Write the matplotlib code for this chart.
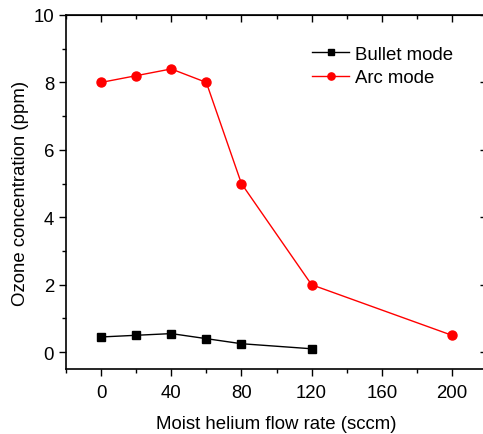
import matplotlib
matplotlib.use("Agg")
import matplotlib.pyplot as plt
from matplotlib.ticker import MultipleLocator

plt.rcParams['font.family'] = ['Liberation Sans', 'DejaVu Sans']

bullet_x = [0, 20, 40, 60, 80, 120]
bullet_y = [0.45, 0.5, 0.55, 0.4, 0.25, 0.1]
arc_x = [0, 20, 40, 60, 80, 120, 200]
arc_y = [8.0, 8.2, 8.4, 8.0, 5.0, 2.0, 0.5]

FS = 13.4

fig = plt.figure(figsize=(4.83, 4.35), dpi=100)
W, H = 483, 435
ax = fig.add_axes([66 / W, 1 - 370 / H, (487 - 66) / W, (370 - 16) / H])

ax.plot(bullet_x, bullet_y, color='black', lw=1.0, marker='s', ms=6, label='Bullet mode')
ax.plot(arc_x, arc_y, color='red', lw=1.0, marker='o', ms=6.5, label='Arc mode')

ax.set_xlim(-20, 220)
ax.set_ylim(-0.5, 10)
ax.xaxis.set_major_locator(MultipleLocator(40))
ax.xaxis.set_minor_locator(MultipleLocator(20))
ax.yaxis.set_major_locator(MultipleLocator(2))
ax.yaxis.set_minor_locator(MultipleLocator(1))
ax.set_xticks([0, 40, 80, 120, 160, 200])

ax.tick_params(axis='both', which='major', labelsize=FS, length=5, width=1, direction='out')
ax.tick_params(axis='x', which='major', pad=6)
ax.tick_params(axis='both', which='minor', length=3, width=1, direction='out')
for s in ax.spines.values():
    s.set_linewidth(1.2)

# mirrored ticks (inward) on top and right
secx = ax.secondary_xaxis('top')
secx.xaxis.set_major_locator(MultipleLocator(40))
secx.xaxis.set_minor_locator(MultipleLocator(20))
secx.tick_params(which='major', direction='in', length=5, width=1, labeltop=False)
secx.tick_params(which='minor', direction='in', length=3, width=1)
secy = ax.secondary_yaxis('right')
secy.yaxis.set_major_locator(MultipleLocator(2))
secy.yaxis.set_minor_locator(MultipleLocator(1))
secy.tick_params(which='major', direction='in', length=5, width=1, labelright=False)
secy.tick_params(which='minor', direction='in', length=3, width=1)

ax.set_xlabel('Moist helium flow rate (sccm)', fontsize=FS, labelpad=10)
ax.set_ylabel('Ozone concentration (ppm)', fontsize=FS, labelpad=3)

ax.legend(loc='upper left', bbox_to_anchor=(0.545, 0.96), frameon=False, fontsize=FS,
          handlelength=2.0, handletextpad=0.3, labelspacing=0.35, markerscale=0.8)

fig.savefig('out.png', dpi=100)
